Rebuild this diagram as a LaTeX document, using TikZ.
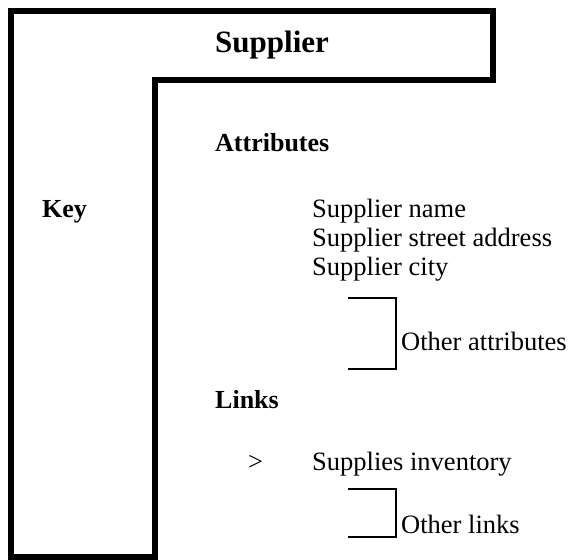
\documentclass[tikz,border=0pt]{standalone}
\usepackage{fontspec}
\setmainfont{Liberation Serif}
\begin{document}
\begin{tikzpicture}[x=1pt,y=-1pt,
  outline/.style={draw=black,line width=6pt,line join=miter},
  brk/.style={draw=black,line width=2pt},
  title/.style={anchor=base west,inner sep=0pt,font=\fontsize{31}{36}\selectfont\bfseries},
  head/.style={anchor=base west,inner sep=0pt,font=\fontsize{26}{30}\selectfont\bfseries},
  txt/.style={anchor=base west,inner sep=0pt,font=\fontsize{26.5}{30}\selectfont}]
\useasboundingbox (0,0) rectangle (574,560);
\fill[white] (0,0) rectangle (574,560);
% outline
\draw[outline] (11,11) -- (493,11) -- (493,80) -- (155,80) -- (155,557) -- (11,557) -- cycle;
% texts
\node[title] (sup) at (215,52) {Supplier};
\node[head] (attr) at (215,151) {Attributes};
\node[head] (key) at (42,217) {Key};
\node[txt] (a1) at (312,217) {Supplier name};
\node[txt] (a2) at (312,246) {Supplier street address};
\node[txt] (a3) at (312,275) {Supplier city};
\node[txt] (oa) at (401,350) {Other attributes};
\node[head] (links) at (215,408) {Links};
\node[txt] (gt) at (248,470) {>};
\node[txt] (l1) at (312,470) {Supplies inventory};
\node[txt] (ol) at (401,533) {Other links};
% brackets
\coordinate (b1a) at (348,298);
\coordinate (b1b) at (396,298);
\coordinate (b1c) at (396,369);
\coordinate (b1d) at (348,369);
\draw[brk] (b1a) -- (b1b) -- (b1c) -- (b1d);
\coordinate (b2a) at (348,489);
\coordinate (b2b) at (396,489);
\coordinate (b2c) at (396,537);
\coordinate (b2d) at (348,537);
\draw[brk] (b2a) -- (b2b) -- (b2c) -- (b2d);
\end{tikzpicture}
\end{document}
